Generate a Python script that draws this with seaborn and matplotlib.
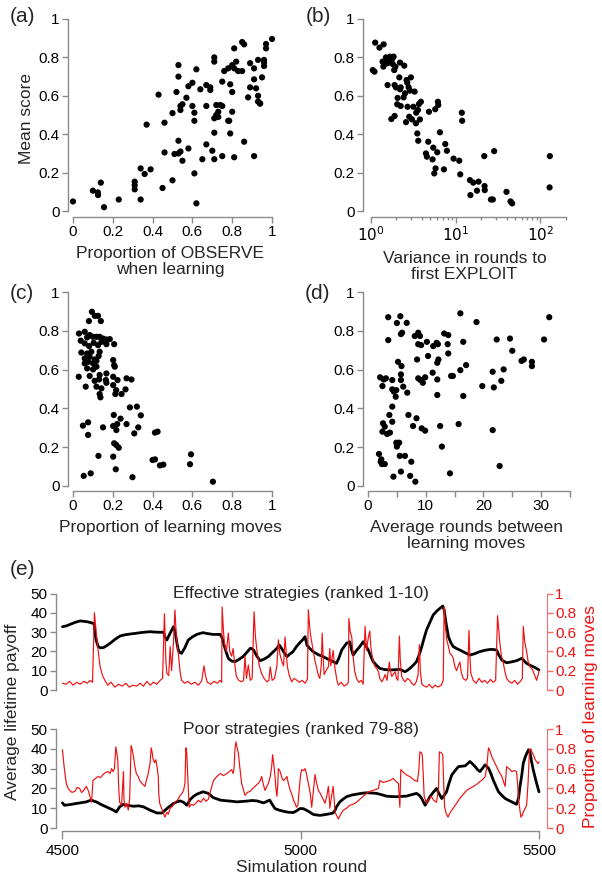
import matplotlib
matplotlib.use("Agg")
import matplotlib.pyplot as plt
import seaborn as sns
from matplotlib.ticker import FixedLocator, NullFormatter, FixedFormatter

# ---------------- data ----------------
# (a) proportion of OBSERVE vs mean score
a_obs = [0.00, 0.10, 0.125, 0.126, 0.14, 0.156, 0.23, 0.31, 0.31, 0.31,
         0.34, 0.34, 0.36, 0.39, 0.37, 0.43, 0.45, 0.46, 0.46, 0.50,
         0.50, 0.51, 0.52, 0.53, 0.53, 0.54, 0.53, 0.53, 0.54, 0.54,
         0.55, 0.55, 0.57, 0.58, 0.58, 0.60, 0.60, 0.61, 0.61, 0.61,
         0.62, 0.62, 0.64, 0.65, 0.67, 0.67, 0.67, 0.69, 0.69, 0.70,
         0.71, 0.71, 0.71, 0.71, 0.71, 0.72, 0.72, 0.73, 0.73, 0.74,
         0.75, 0.75, 0.75, 0.76, 0.78, 0.78, 0.785, 0.79, 0.79, 0.80,
         0.80, 0.80, 0.81, 0.81, 0.81, 0.82, 0.83, 0.85, 0.85, 0.86,
         0.86, 0.88, 0.89, 0.89, 0.91, 0.91, 0.91, 0.92, 0.93, 0.93,
         0.93, 0.94, 0.94, 0.95, 0.96, 0.96, 0.96, 0.97, 0.97, 1.00]
a_score = [0.05, 0.106, 0.097, 0.083, 0.148, 0.02, 0.06, 0.153, 0.135, 0.113,
           0.06, 0.222, 0.193, 0.217, 0.45, 0.606, 0.12, 0.305, 0.46, 0.16,
           0.51, 0.297, 0.62, 0.70, 0.30, 0.31, 0.366, 0.76, 0.526, 0.547,
           0.556, 0.262, 0.59, 0.326, 0.65, 0.668, 0.547, 0.47, 0.196, 0.512,
           0.738, 0.04, 0.634, 0.27, 0.656, 0.347, 0.547, 0.644, 0.63, 0.314,
           0.80, 0.778, 0.483, 0.408, 0.27, 0.50, 0.552, 0.517, 0.49, 0.552,
           0.674, 0.286, 0.547, 0.729, 0.743, 0.47, 0.47, 0.66, 0.404, 0.62,
           0.517, 0.76, 0.743, 0.28, 0.847, 0.778, 0.729, 0.729, 0.88, 0.868,
           0.361, 0.592, 0.77, 0.644, 0.686, 0.286, 0.743, 0.639, 0.57, 0.60,
           0.787, 0.56, 0.56, 0.696, 0.755, 0.773, 0.787, 0.847, 0.87, 0.896]

# (b) variance in rounds to first EXPLOIT vs mean score
b_var = [1.05, 1.10, 1.12, 1.26, 1.41, 1.37, 1.42, 1.48, 1.56, 1.40,
         1.50, 1.59, 1.67, 1.78, 1.85, 1.67, 1.80, 1.94, 1.88, 1.57,
         1.74, 1.90, 1.90, 1.97, 2.06, 2.04, 2.24, 2.16, 2.20, 2.24,
         2.20, 2.47, 2.43, 2.52, 2.63, 2.68, 2.78, 2.59, 2.70, 2.83,
         2.88, 2.96, 3.04, 3.16, 3.27, 3.39, 3.42, 3.58, 3.52, 3.61,
         3.68, 3.88, 3.78, 4.45, 4.57, 4.74, 4.83, 5.33, 5.43, 5.58,
         5.78, 5.73, 6.05, 6.16, 6.22, 6.51, 7.25, 7.52, 7.87, 9.43,
         11.0, 11.3, 11.8, 11.9, 14.7, 14.9, 16.1, 17.8, 18.6, 21.7,
         21.9, 22.0, 26.0, 27.4, 28.4, 39.7, 44.3, 46.3, 129.0, 128.0]
b_score = [0.734, 0.726, 0.877, 0.851, 0.868, 0.778, 0.766, 0.778, 0.769, 0.752,
           0.80, 0.79, 0.804, 0.793, 0.804, 0.781, 0.766, 0.752, 0.734, 0.656,
           0.479, 0.495, 0.656, 0.644, 0.589, 0.556, 0.547, 0.696, 0.634, 0.644,
           0.773, 0.757, 0.592, 0.613, 0.682, 0.668, 0.644, 0.463, 0.543, 0.491,
           0.627, 0.696, 0.477, 0.543, 0.622, 0.457, 0.512, 0.526, 0.404, 0.366,
           0.557, 0.569, 0.477, 0.30, 0.283, 0.361, 0.517, 0.269, 0.33, 0.196,
           0.222, 0.53, 0.306, 0.569, 0.552, 0.41, 0.217, 0.349, 0.314, 0.273,
           0.262, 0.191, 0.512, 0.47, 0.161, 0.083, 0.148, 0.106, 0.153, 0.286,
           0.13, 0.109, 0.06, 0.06, 0.312, 0.10, 0.05, 0.04, 0.286, 0.123]

# (c) proportion of learning moves vs mean score
c_learn = [0.095, 0.08, 0.126, 0.14, 0.11, 0.03, 0.059, 0.071, 0.039, 0.084,
           0.10, 0.118, 0.134, 0.151, 0.168, 0.185, 0.207, 0.059, 0.081, 0.104,
           0.126, 0.143, 0.168, 0.042, 0.071, 0.092, 0.134, 0.059, 0.084, 0.109,
           0.129, 0.059, 0.076, 0.101, 0.118, 0.202, 0.207, 0.071, 0.101, 0.118,
           0.21, 0.029, 0.084, 0.134, 0.168, 0.202, 0.224, 0.109, 0.131, 0.165,
           0.269, 0.294, 0.118, 0.143, 0.168, 0.202, 0.217, 0.064, 0.134, 0.138,
           0.213, 0.244, 0.264, 0.286, 0.321, 0.341, 0.205, 0.239, 0.218, 0.05,
           0.076, 0.151, 0.202, 0.222, 0.269, 0.328, 0.308, 0.412, 0.425, 0.076,
           0.207, 0.218, 0.23, 0.128, 0.202, 0.40, 0.412, 0.437, 0.454, 0.588,
           0.593, 0.215, 0.054, 0.089, 0.299, 0.703]
c_score = [0.898, 0.85, 0.877, 0.85, 0.877, 0.786, 0.795, 0.766, 0.749, 0.778,
           0.769, 0.769, 0.769, 0.76, 0.755, 0.757, 0.731, 0.735, 0.721, 0.738,
           0.726, 0.743, 0.731, 0.688, 0.683, 0.692, 0.692, 0.658, 0.666, 0.652,
           0.67, 0.632, 0.64, 0.632, 0.645, 0.649, 0.623, 0.606, 0.601, 0.615,
           0.615, 0.563, 0.567, 0.572, 0.58, 0.563, 0.546, 0.542, 0.549, 0.546,
           0.555, 0.549, 0.512, 0.503, 0.532, 0.52, 0.494, 0.512, 0.474, 0.457,
           0.474, 0.474, 0.498, 0.405, 0.409, 0.364, 0.366, 0.347, 0.288, 0.311,
           0.328, 0.302, 0.309, 0.319, 0.319, 0.302, 0.271, 0.275, 0.28, 0.263,
           0.22, 0.211, 0.197, 0.155, 0.151, 0.134, 0.137, 0.106, 0.11, 0.112,
           0.163, 0.086, 0.052, 0.065, 0.045, 0.022]

# (d) average rounds between learning moves vs mean score
d_rounds = [3.5, 5.6, 5.0, 5.9, 16.0, 18.8, 31.4, 3.5, 5.7, 6.7,
            8.1, 8.7, 9.0, 8.5, 8.7, 9.2, 10.2, 10.4, 11.3, 11.9,
            12.1, 12.0, 12.2, 13.2, 13.9, 13.8, 13.9, 16.5, 17.0, 16.0,
            14.4, 14.7, 11.2, 12.0, 8.7, 9.1, 9.5, 9.9, 12.0, 16.5,
            19.8, 21.6, 21.8, 23.1, 23.5, 22.3, 24.6, 25.0, 26.6, 27.0,
            28.4, 28.4, 30.5, 21.6, 22.8, 15.7, 14.2, 12.8, 12.5, 9.3,
            9.9, 8.4, 7.0, 7.8, 6.8, 6.1, 5.7, 5.7, 5.2, 5.8,
            4.2, 4.5, 4.8, 4.9, 4.2, 2.1, 2.7, 3.1, 2.5, 4.2,
            3.7, 4.2, 2.6, 2.9, 2.5, 3.3, 3.8, 4.9, 5.4, 5.0,
            5.5, 6.4, 5.7, 1.9, 2.2, 2.4, 2.9, 2.3, 4.4, 7.3,
            7.5, 8.2]
d_score = [0.87, 0.875, 0.84, 0.79, 0.89, 0.845, 0.87, 0.752, 0.783, 0.841,
           0.773, 0.79, 0.773, 0.652, 0.731, 0.726, 0.743, 0.67, 0.721, 0.738,
           0.731, 0.635, 0.652, 0.786, 0.778, 0.731, 0.683, 0.743, 0.623, 0.597,
           0.567, 0.567, 0.584, 0.549, 0.555, 0.546, 0.532, 0.56, 0.469, 0.464,
           0.515, 0.589, 0.508, 0.542, 0.601, 0.755, 0.76, 0.697, 0.645, 0.652,
           0.64, 0.618, 0.755, 0.288, 0.103, 0.319, 0.065, 0.203, 0.309, 0.297,
           0.285, 0.349, 0.366, 0.309, 0.481, 0.512, 0.546, 0.575, 0.64, 0.618,
           0.498, 0.486, 0.46, 0.494, 0.546, 0.56, 0.549, 0.555, 0.515, 0.409,
           0.366, 0.331, 0.323, 0.306, 0.28, 0.268, 0.275, 0.223, 0.223, 0.203,
           0.155, 0.155, 0.074, 0.165, 0.125, 0.113, 0.113, 0.137, 0.048, 0.052,
           0.125, 0.022]

# (e) effective strategies, payoff (black) and learning proportion (red)
eff_pay_round = [4500, 4508, 4516, 4526, 4537, 4545, 4551, 4558, 4565, 4567,
                 4568, 4571, 4575, 4580, 4586, 4593, 4600, 4610, 4621, 4631,
                 4642, 4652, 4663, 4674, 4684, 4695, 4705, 4712, 4715, 4719,
                 4726, 4733, 4735, 4737, 4740, 4743, 4746, 4750, 4757, 4764,
                 4773, 4782, 4790, 4795, 4805, 4816, 4824, 4831, 4835, 4838,
                 4843, 4848, 4855, 4862, 4870, 4879, 4887, 4894, 4898, 4901,
                 4908, 4915, 4923, 4932, 4941, 4950, 4955, 4960, 4966, 4971,
                 4977, 4984, 4991, 4998, 5004, 5009, 5011, 5013, 5019, 5026,
                 5036, 5047, 5057, 5068, 5075, 5080, 5086, 5091, 5096, 5103,
                 5106, 5110, 5117, 5124, 5131, 5136, 5142, 5147, 5152, 5159,
                 5166, 5176, 5187, 5198, 5208, 5214, 5219, 5224, 5229, 5236,
                 5243, 5249, 5254, 5259, 5264, 5271, 5278, 5285, 5292, 5298,
                 5301, 5305, 5310, 5315, 5320, 5327, 5334, 5345, 5355, 5365,
                 5376, 5387, 5397, 5404, 5411, 5416, 5422, 5432, 5443, 5453,
                 5464, 5469, 5474, 5481, 5488, 5494, 5500]
eff_pay = [32.8, 33.2, 34.0, 35.0, 35.8, 35.6, 35.4, 35.0, 34.5, 33.5,
           29.4, 25.5, 22.5, 21.8, 22.0, 23.0, 24.2, 26.2, 28.0, 28.6,
           29.0, 29.3, 29.7, 30.0, 30.2, 30.0, 29.9, 30.0, 27.5, 25.9,
           29.5, 32.8, 31.5, 29.4, 24.5, 20.7, 19.5, 19.0, 22.0, 25.9,
           27.6, 28.8, 29.4, 29.7, 29.2, 28.8, 28.8, 28.8, 27.0, 24.2,
           20.0, 16.4, 15.0, 14.7, 15.8, 17.3, 19.5, 21.6, 21.4, 20.7,
           17.5, 15.2, 16.0, 17.3, 19.5, 21.6, 23.3, 21.5, 19.0, 17.3,
           18.6, 19.9, 22.5, 24.5, 26.0, 27.6, 25.5, 23.3, 21.5, 19.9,
           18.4, 17.3, 16.0, 14.7, 13.8, 16.5, 20.7, 22.5, 24.2, 25.0,
           21.5, 18.1, 20.5, 22.5, 25.0, 23.0, 20.7, 17.5, 14.7, 12.8,
           11.2, 10.6, 10.4, 10.5, 10.7, 10.0, 9.5, 10.2, 11.2, 12.8,
           14.7, 18.5, 22.5, 27.0, 31.1, 35.0, 38.9, 40.8, 42.3, 43.5,
           41.5, 34.5, 27.6, 24.5, 22.5, 21.5, 20.7, 19.3, 18.1, 18.8,
           19.9, 20.6, 21.0, 21.0, 20.7, 18.0, 15.5, 14.1, 14.6, 15.2,
           16.4, 15.0, 13.8, 12.8, 12.1, 11.3, 10.4]

eff_learn_round = [4500, 4508, 4515, 4522, 4530, 4537, 4545, 4552, 4558, 4563,
                   4567, 4571, 4575, 4579, 4584, 4589, 4595, 4602, 4610, 4618,
                   4625, 4633, 4640, 4648, 4656, 4663, 4670, 4677, 4684, 4691,
                   4698, 4705, 4710, 4714, 4717, 4719, 4723, 4726, 4729, 4733,
                   4736, 4739, 4743, 4747, 4750, 4756, 4763, 4770, 4778, 4785,
                   4792, 4797, 4800, 4804, 4811, 4818, 4825, 4831, 4834, 4835,
                   4838, 4840, 4844, 4848, 4851, 4855, 4858, 4862, 4865, 4870,
                   4876, 4880, 4883, 4886, 4890, 4894, 4898, 4902, 4905, 4908,
                   4913, 4918, 4923, 4929, 4933, 4936, 4940, 4945, 4950, 4953,
                   4956, 4960, 4964, 4967, 4970, 4972, 4976, 4981, 4986, 4992,
                   4997, 5003, 5009, 5014, 5016, 5018, 5020, 5023, 5026, 5030,
                   5033, 5037, 5040, 5043, 5045, 5047, 5049, 5053, 5058, 5061,
                   5063, 5065, 5068, 5070, 5072, 5076, 5079, 5085, 5091, 5097,
                   5100, 5101, 5104, 5107, 5110, 5113, 5117, 5122, 5127, 5131,
                   5135, 5137, 5138, 5142, 5145, 5147, 5149, 5152, 5156, 5160,
                   5163, 5166, 5170, 5174, 5177, 5181, 5186, 5188, 5191, 5195,
                   5198, 5201, 5204, 5207, 5209, 5212, 5216, 5219, 5224, 5229,
                   5233, 5238, 5242, 5246, 5249, 5251, 5254, 5259, 5264, 5270,
                   5276, 5282, 5288, 5295, 5299, 5301, 5303, 5306, 5310, 5313,
                   5317, 5320, 5323, 5327, 5330, 5334, 5337, 5341, 5346, 5350,
                   5353, 5355, 5357, 5362, 5368, 5374, 5380, 5386, 5392, 5398,
                   5404, 5409, 5413, 5416, 5418, 5421, 5425, 5429, 5432, 5437,
                   5443, 5449, 5455, 5461, 5465, 5467, 5470, 5474, 5477, 5481,
                   5485, 5488, 5492, 5495, 5498, 5500]
eff_learn = [0.07, 0.06, 0.09, 0.05, 0.08, 0.06, 0.09, 0.07, 0.10, 0.08,
             0.80, 0.59, 0.40, 0.24, 0.15, 0.10, 0.05, 0.08, 0.03, 0.06,
             0.04, 0.07, 0.03, 0.05, 0.04, 0.07, 0.04, 0.09, 0.05, 0.08,
             0.06, 0.10, 0.12, 0.79, 0.30, 0.17, 0.15, 0.45, 0.20, 0.50,
             0.83, 0.55, 0.38, 0.18, 0.10, 0.07, 0.09, 0.06, 0.08, 0.05,
             0.09, 0.25, 0.15, 0.08, 0.06, 0.09, 0.07, 0.10, 0.08, 0.86,
             0.60, 0.48, 0.40, 0.59, 0.40, 0.35, 0.43, 0.25, 0.14, 0.10,
             0.085, 0.10, 0.35, 0.12, 0.26, 0.10, 0.12, 0.81, 0.55, 0.41,
             0.25, 0.17, 0.12, 0.085, 0.10, 0.24, 0.10, 0.12, 0.25, 0.52,
             0.38, 0.30, 0.25, 0.55, 0.35, 0.24, 0.15, 0.085, 0.12, 0.10,
             0.08, 0.10, 0.07, 0.11, 0.83, 0.70, 0.59, 0.50, 0.41, 0.30,
             0.24, 0.15, 0.12, 0.25, 0.59, 0.35, 0.16, 0.20, 0.24, 0.43,
             0.25, 0.31, 0.41, 0.30, 0.22, 0.10, 0.05, 0.08, 0.04, 0.06,
             0.08, 0.74, 0.60, 0.55, 0.35, 0.20, 0.12, 0.08, 0.10, 0.06,
             0.66, 0.50, 0.41, 0.55, 0.61, 0.45, 0.38, 0.30, 0.24, 0.22,
             0.19, 0.12, 0.085, 0.12, 0.16, 0.10, 0.29, 0.20, 0.14, 0.17,
             0.19, 0.12, 0.10, 0.56, 0.30, 0.14, 0.10, 0.085, 0.12, 0.10,
             0.07, 0.05, 0.08, 0.15, 0.47, 0.20, 0.06, 0.04, 0.03, 0.06,
             0.02, 0.05, 0.03, 0.05, 0.10, 0.86, 0.70, 0.53, 0.45, 0.38,
             0.36, 0.33, 0.25, 0.20, 0.24, 0.29, 0.18, 0.12, 0.10, 0.12,
             0.62, 0.35, 0.17, 0.10, 0.07, 0.12, 0.08, 0.10, 0.07, 0.11,
             0.08, 0.10, 0.77, 0.60, 0.48, 0.36, 0.28, 0.18, 0.12, 0.09,
             0.07, 0.10, 0.06, 0.09, 0.12, 0.66, 0.50, 0.40, 0.30, 0.24,
             0.22, 0.19, 0.14, 0.10, 0.15, 0.20]

# (e) poor strategies
poor_pay_round = [4500, 4504, 4515, 4529, 4540, 4550, 4560, 4571, 4580, 4589,
                  4598, 4607, 4613, 4620, 4627, 4638, 4649, 4660, 4670, 4684,
                  4698, 4709, 4719, 4726, 4733, 4740, 4747, 4754, 4761, 4768,
                  4775, 4782, 4795, 4806, 4816, 4831, 4842, 4852, 4866, 4877,
                  4887, 4898, 4908, 4922, 4935, 4940, 4946, 4955, 4963, 4973,
                  4984, 4990, 4998, 5005, 5012, 5019, 5026, 5033, 5040, 5047,
                  5054, 5061, 5068, 5072, 5075, 5082, 5089, 5096, 5106, 5117,
                  5127, 5138, 5148, 5159, 5170, 5180, 5190, 5201, 5211, 5222,
                  5232, 5243, 5249, 5254, 5261, 5266, 5271, 5278, 5285, 5290,
                  5296, 5301, 5306, 5311, 5317, 5324, 5331, 5338, 5345, 5350,
                  5355, 5360, 5366, 5371, 5376, 5381, 5387, 5394, 5399, 5404,
                  5410, 5415, 5422, 5429, 5436, 5443, 5448, 5453, 5457, 5460,
                  5464, 5467, 5472, 5478, 5481, 5484, 5488, 5494, 5500]
poor_pay = [12.7, 11.5, 11.8, 12.4, 12.8, 13.2, 14.1, 13.2, 12.0, 11.0,
            10.0, 9.0, 8.1, 10.7, 11.9, 11.4, 11.0, 11.2, 10.7, 9.0,
            7.6, 7.6, 9.8, 11.2, 12.4, 13.2, 13.7, 13.0, 11.5, 14.4,
            16.0, 17.1, 18.3, 17.5, 15.4, 14.1, 13.8, 13.6, 13.2, 13.4,
            13.6, 13.9, 13.7, 12.7, 14.1, 12.0, 9.8, 9.0, 8.5, 8.0,
            7.8, 8.5, 9.8, 9.8, 9.0, 8.0, 6.9, 6.6, 6.4, 6.6,
            6.9, 7.2, 7.6, 9.0, 10.7, 13.2, 14.6, 15.8, 16.6, 17.1,
            17.5, 17.8, 17.7, 17.5, 16.8, 16.1, 15.9, 15.8, 16.0, 16.1,
            16.8, 17.5, 16.5, 14.9, 11.5, 13.5, 15.8, 18.0, 20.0, 17.5,
            14.9, 16.5, 18.3, 22.5, 26.8, 29.0, 31.0, 31.2, 31.4, 32.5,
            33.6, 32.5, 31.0, 29.5, 28.5, 30.0, 31.9, 30.2, 27.5, 24.2,
            21.0, 18.3, 16.5, 14.9, 14.0, 13.2, 12.6, 12.0, 15.0, 20.8,
            27.0, 32.7, 36.5, 39.5, 38.6, 34.0, 29.3, 23.5, 18.3]

poor_learn_round = [4500, 4503, 4506, 4508, 4512, 4515, 4520, 4526, 4531, 4536,
                    4540, 4543, 4547, 4550, 4554, 4557, 4561, 4564, 4569, 4575,
                    4580, 4585, 4590, 4596, 4600, 4603, 4606, 4609, 4612, 4614,
                    4616, 4618, 4620, 4624, 4626, 4628, 4629, 4631, 4635, 4638,
                    4641, 4644, 4646, 4649, 4652, 4655, 4659, 4662, 4667, 4673,
                    4676, 4680, 4684, 4686, 4688, 4690, 4693, 4696, 4699, 4701,
                    4702, 4704, 4708, 4712, 4715, 4719, 4722, 4726, 4731, 4736,
                    4741, 4747, 4751, 4754, 4757, 4759, 4761, 4762, 4764, 4766,
                    4770, 4775, 4780, 4785, 4790, 4796, 4801, 4806, 4811, 4817,
                    4824, 4831, 4838, 4845, 4850, 4855, 4858, 4860, 4862, 4864,
                    4866, 4869, 4872, 4876, 4880, 4883, 4888, 4894, 4899, 4904,
                    4908, 4911, 4915, 4918, 4921, 4925, 4929, 4932, 4936, 4939,
                    4941, 4944, 4946, 4948, 4950, 4952, 4953, 4956, 4958, 4961,
                    4964, 4968, 4971, 4974, 4978, 4982, 4985, 4988, 4991, 4994,
                    4997, 5000, 5002, 5006, 5009, 5012, 5016, 5020, 5023, 5026,
                    5030, 5033, 5037, 5041, 5044, 5048, 5051, 5055, 5058, 5060,
                    5061, 5064, 5068, 5070, 5072, 5076, 5079, 5084, 5089, 5096,
                    5103, 5110, 5117, 5124, 5131, 5138, 5145, 5152, 5158, 5163,
                    5166, 5173, 5180, 5187, 5194, 5200, 5205, 5207, 5208, 5210,
                    5214, 5218, 5224, 5229, 5234, 5239, 5245, 5248, 5250, 5253,
                    5255, 5257, 5259, 5264, 5269, 5274, 5279, 5285, 5289, 5291,
                    5295, 5298, 5300, 5302, 5305, 5309, 5314, 5320, 5327, 5334,
                    5341, 5348, 5355, 5362, 5369, 5376, 5382, 5387, 5390, 5394,
                    5397, 5401, 5406, 5411, 5416, 5422, 5426, 5429, 5431, 5432,
                    5437, 5443, 5448, 5453, 5455, 5457, 5460, 5462, 5465, 5467,
                    5471, 5474, 5477, 5480, 5483, 5485, 5489, 5492, 5495, 5498,
                    5500]
poor_learn = [0.79, 0.64, 0.52, 0.45, 0.40, 0.38, 0.36, 0.37, 0.41, 0.40,
              0.36, 0.37, 0.40, 0.42, 0.38, 0.33, 0.26, 0.48, 0.50, 0.52,
              0.51, 0.54, 0.56, 0.57, 0.55, 0.60, 0.57, 0.60, 0.82, 0.76,
              0.69, 0.40, 0.26, 0.23, 0.40, 0.57, 0.30, 0.21, 0.25, 0.18,
              0.30, 0.83, 0.80, 0.72, 0.62, 0.55, 0.52, 0.48, 0.45, 0.42,
              0.48, 0.55, 0.66, 0.81, 0.77, 0.70, 0.66, 0.69, 0.60, 0.52,
              0.35, 0.25, 0.20, 0.15, 0.11, 0.16, 0.14, 0.20, 0.22, 0.26,
              0.28, 0.33, 0.35, 0.38, 0.45, 0.81, 0.75, 0.62, 0.40, 0.21,
              0.24, 0.23, 0.25, 0.28, 0.26, 0.30, 0.27, 0.29, 0.38, 0.48,
              0.52, 0.55, 0.53, 0.55, 0.57, 0.59, 0.55, 0.60, 0.80, 0.87,
              0.82, 0.76, 0.62, 0.45, 0.38, 0.33, 0.36, 0.37, 0.40, 0.42,
              0.44, 0.45, 0.48, 0.52, 0.45, 0.38, 0.42, 0.45, 0.52, 0.62,
              0.74, 0.62, 0.52, 0.40, 0.32, 0.45, 0.60, 0.58, 0.55, 0.50,
              0.48, 0.50, 0.52, 0.45, 0.38, 0.33, 0.28, 0.25, 0.21, 0.23,
              0.40, 0.55, 0.59, 0.58, 0.60, 0.55, 0.45, 0.35, 0.21, 0.35,
              0.54, 0.46, 0.38, 0.35, 0.32, 0.28, 0.25, 0.33, 0.42, 0.30,
              0.20, 0.30, 0.42, 0.30, 0.16, 0.12, 0.09, 0.14, 0.18, 0.20,
              0.23, 0.24, 0.26, 0.29, 0.32, 0.35, 0.37, 0.38, 0.39, 0.40,
              0.48, 0.46, 0.47, 0.48, 0.50, 0.47, 0.45, 0.30, 0.21, 0.59,
              0.57, 0.55, 0.53, 0.52, 0.50, 0.48, 0.47, 0.60, 0.77, 0.76,
              0.74, 0.55, 0.32, 0.25, 0.29, 0.32, 0.28, 0.26, 0.40, 0.77,
              0.76, 0.74, 0.45, 0.21, 0.15, 0.11, 0.16, 0.20, 0.25, 0.30,
              0.34, 0.38, 0.40, 0.42, 0.44, 0.47, 0.49, 0.52, 0.60, 0.81,
              0.78, 0.72, 0.67, 0.62, 0.57, 0.52, 0.46, 0.42, 0.55, 0.62,
              0.60, 0.57, 0.58, 0.57, 0.45, 0.30, 0.18, 0.11, 0.13, 0.16,
              0.20, 0.23, 0.45, 0.79, 0.80, 0.77, 0.73, 0.69, 0.67, 0.65,
              0.67]

# ---------------- styling ----------------
sns.set_style("ticks")
plt.rcParams['font.family'] = ['Liberation Sans', 'DejaVu Sans']

W, H = 602, 880
GREY = '#8a8a8a'
RED = '#ee1111'
TICK_FS = 11
LAB_FS = 12.5


def px_axes(fig, left, top, right, bottom):
    # axes placed by pixel box of the 602x880 canvas
    return fig.add_axes([left / W, 1 - bottom / H, (right - left) / W, (bottom - top) / H])


def r_style(ax, xb, yb):
    for s in ['top', 'right']:
        ax.spines[s].set_visible(False)
    ax.spines['left'].set_bounds(*yb)
    ax.spines['bottom'].set_bounds(*xb)
    for s in ['left', 'bottom']:
        ax.spines[s].set_color(GREY)
        ax.spines[s].set_linewidth(1.0)
    ax.tick_params(which='both', colors=GREY, labelcolor='black', labelsize=TICK_FS,
                   width=1.0, direction='out', pad=2)
    ax.tick_params(which='major', length=4)
    ax.tick_params(which='minor', length=2.5)


def scatter(ax, x, y):
    sns.scatterplot(x=x, y=y, ax=ax, color='black', s=20, edgecolor='none',
                    linewidth=0, clip_on=False)


fig = plt.figure(figsize=(W / 100, H / 100), dpi=100)

yticks = [0, 0.2, 0.4, 0.6, 0.8, 1]
ylabels = ['0', '0.2', '0.4', '0.6', '0.8', '1']

# (a)
ax = px_axes(fig, 68, 19, 272, 217)
scatter(ax, a_obs, a_score)
ax.set_xlim(-0.025, 1.0)
ax.set_ylim(-0.031, 1.0)
ax.set_xticks(yticks, ylabels)
ax.set_yticks(yticks, ylabels)
r_style(ax, (0, 1), (0, 1))
ax.set_xlabel('Proportion of OBSERVE\nwhen learning', fontsize=LAB_FS, labelpad=5, linespacing=1.05)
ax.set_ylabel('Mean score', fontsize=LAB_FS, labelpad=3)
fig.text(22 / W, 1 - 17 / H, '(a)', fontsize=15, ha='center', va='center')

# (b)
ax = px_axes(fig, 363, 19, 566, 217)
scatter(ax, b_var, b_score)
ax.set_xscale('log')
ax.set_xlim(0.805, 200)
ax.set_ylim(-0.031, 1.0)
ax.xaxis.set_major_locator(FixedLocator([1, 10, 100]))
ax.xaxis.set_major_formatter(FixedFormatter(['$10^0$', '$10^1$', '$10^2$']))
minors = [m * d for d in (1, 10) for m in range(2, 10)] + [200]
ax.xaxis.set_minor_locator(FixedLocator(minors))
ax.xaxis.set_minor_formatter(NullFormatter())
ax.set_yticks(yticks, ylabels)
r_style(ax, (1, 200), (0, 1))
ax.set_xlabel('Variance in rounds to\nfirst EXPLOIT', fontsize=LAB_FS, labelpad=5, linespacing=1.05)
ax.set_ylabel('')
fig.text(318 / W, 1 - 17 / H, '(b)', fontsize=15, ha='center', va='center')

# (c)
ax = px_axes(fig, 68, 292, 272, 491)
scatter(ax, c_learn, c_score)
ax.set_xlim(-0.025, 1.0)
ax.set_ylim(-0.026, 1.0)
ax.set_xticks(yticks, ylabels)
ax.set_yticks(yticks, ylabels)
r_style(ax, (0, 1), (0, 1))
ax.set_xlabel('Proportion of learning moves', fontsize=LAB_FS, labelpad=5)
ax.set_ylabel('')
fig.text(22 / W, 1 - 293 / H, '(c)', fontsize=15, ha='center', va='center')

# (d)
ax = px_axes(fig, 363, 292, 570, 491)
scatter(ax, d_rounds, d_score)
ax.set_xlim(-0.87, 35)
ax.set_ylim(-0.026, 1.0)
ax.set_xticks([0, 10, 20, 30], ['0', '10', '20', '30'])
ax.xaxis.set_minor_locator(FixedLocator([5, 15, 25, 35]))
ax.set_yticks(yticks, ylabels)
r_style(ax, (0, 35), (0, 1))
ax.tick_params(axis='x', which='minor', length=4)
ax.set_xlabel('Average rounds between\nlearning moves', fontsize=LAB_FS, labelpad=5, linespacing=1.05)
ax.set_ylabel('')
fig.text(318 / W, 1 - 293 / H, '(d)', fontsize=15, ha='center', va='center')

# (e)
fig.text(22 / W, 1 - 569 / H, '(e)', fontsize=15, ha='center', va='center')
XL = (4486.4, 5516.8)


def time_panel(top, bottom, ymin, rmin, pay_x, pay_y, learn_x, learn_y, title, show_x):
    ax = px_axes(fig, 56, top, 547, bottom)
    sns.lineplot(x=pay_x, y=pay_y, ax=ax, color='black', lw=2.0,
                 estimator=None, sort=False)
    ax.set_xlim(*XL)
    ax.set_ylim(ymin, 50)
    ax.set_yticks([0, 10, 20, 30, 40, 50])
    r_style(ax, (4500, 5500), (0, 50))
    ax.set_ylabel('')
    ax.set_xlabel('')
    if show_x:
        ax.set_xticks([4500, 5000, 5500], ['4500', '5000', '5500'])
        ax.tick_params(axis='x', length=6, pad=3)
    else:
        ax.spines['bottom'].set_visible(False)
        ax.set_xticks([])
    ax.text(5000, 50, title, ha='center', va='center', fontsize=LAB_FS)

    ax2 = ax.twinx()
    sns.lineplot(x=learn_x, y=learn_y, ax=ax2, color=RED, lw=0.85,
                 estimator=None, sort=False)
    ax2.set_xlim(*XL)
    ax2.set_ylim(rmin, 1)
    ax2.set_yticks([0, 0.2, 0.4, 0.6, 0.8, 1], ['0', '0.2', '0.4', '0.6', '0.8', '1'])
    for s in ['top', 'left', 'bottom']:
        ax2.spines[s].set_visible(False)
    ax2.spines['right'].set_bounds(0, 1)
    ax2.spines['right'].set_color('#f07070')
    ax2.tick_params(axis='y', colors='#f07070', labelcolor=RED, labelsize=TICK_FS,
                    length=4, width=1.0, direction='out', pad=2)
    ax2.set_ylabel('')
    return ax


time_panel(593.5, 690, 0, 0, eff_pay_round, eff_pay, eff_learn_round, eff_learn,
           'Effective strategies (ranked 1-10)', False)
axb = time_panel(729, 831, -1.5, -0.03, poor_pay_round, poor_pay, poor_learn_round, poor_learn,
                 'Poor strategies (ranked 79-88)', True)
axb.set_xlabel('Simulation round', fontsize=LAB_FS, labelpad=2)

fig.text(13 / W, 1 - 712 / H, 'Average lifetime payoff', rotation=90,
         fontsize=LAB_FS, ha='center', va='center')
fig.text(590 / W, 1 - 717 / H, 'Proportion of learning moves', rotation=90,
         fontsize=LAB_FS, ha='center', va='center', color=RED)

fig.savefig('out.png', dpi=100)
